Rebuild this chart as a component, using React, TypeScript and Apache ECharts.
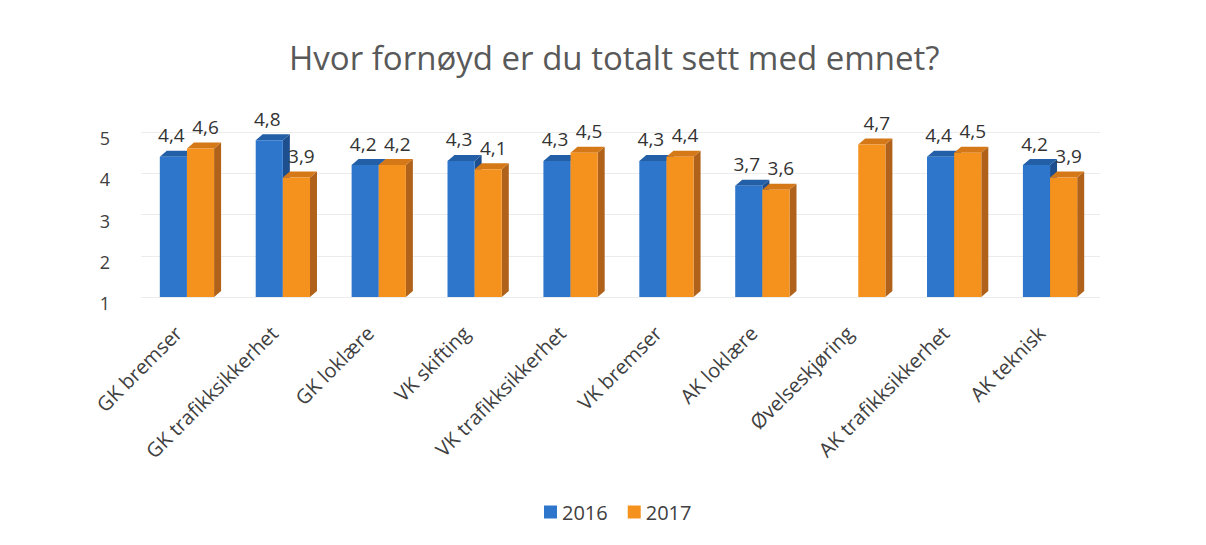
import React, { useEffect, useRef } from "react";
import * as echarts from "echarts";

const categories = [
  "GK bremser",
  "GK trafikksikkerhet",
  "GK loklære",
  "VK skifting",
  "VK trafikksikkerhet",
  "VK bremser",
  "AK loklære",
  "Øvelseskjøring",
  "AK trafikksikkerhet",
  "AK teknisk",
];
const values2016: (number | null)[] = [4.4, 4.8, 4.2, 4.3, 4.3, 4.3, 3.7, null, 4.4, 4.2];
const values2017: (number | null)[] = [4.6, 3.9, 4.2, 4.1, 4.5, 4.4, 3.6, 4.7, 4.5, 3.9];
const seriesNames = ["2016", "2017"];
const yMin = 1;
const yMax = 5;
const yInterval = 1;

const FONT = "'Open Sans', 'Noto Sans', sans-serif";

const palette = [
  { front: "#2e76cb", side: "#1d4f8e", top: "#235fa6" },
  { front: "#f5921e", side: "#b0621a", top: "#d47818" },
];

function makeRender(idx: number) {
  return (params: any, api: any) => {
    const cat = api.value(0);
    const v = api.value(1);
    if (v == null || isNaN(v)) return;
    const top = api.coord([cat, v]);
    const base = api.coord([cat, yMin]);
    const band = api.size([1, 0])[0];
    const w = band * 0.283;
    const c = top[0];
    const x0 = idx === 0 ? c - w - 2 : c - 2;
    const x1 = x0 + w;
    const yt = top[1];
    const yb = base[1];
    const dx = 7;
    const dy = 6;
    const col = palette[idx];
    const label = Number(v).toFixed(1).replace(".", ",");
    return {
      type: "group",
      children: [
        {
          type: "polygon",
          shape: { points: [[x1, yt], [x1 + dx, yt - dy], [x1 + dx, yb - dy], [x1, yb]] },
          style: { fill: col.side },
        },
        {
          type: "polygon",
          shape: { points: [[x0, yt], [x0 + dx, yt - dy], [x1 + dx, yt - dy], [x1, yt]] },
          style: { fill: col.top },
        },
        {
          type: "rect",
          shape: { x: x0, y: yt, width: w, height: yb - yt },
          style: { fill: col.front },
        },
        {
          type: "text",
          x: (x0 + x1) / 2 + (idx === 0 ? -2 : 5),
          y: yt - 12,
          style: {
            text: label,
            fill: "#333333",
            font: `19px ${FONT}`,
            align: "center",
            verticalAlign: "bottom",
          },
        },
      ],
    };
  };
}

export default function App() {
  const ref = useRef<HTMLDivElement>(null);
  useEffect(() => {
    if (!ref.current) return;
    const chart = echarts.init(ref.current, undefined, { renderer: "svg" });
    const allSeries = [values2016, values2017];
    chart.setOption({
      animation: false,
      backgroundColor: "#ffffff",
      title: {
        text: "Hvor fornøyd er du totalt sett med emnet?",
        left: 284,
        top: 36,
        textStyle: { fontFamily: FONT, fontSize: 33, fontWeight: "normal", color: "#595959" },
      },
      legend: {
        bottom: 18,
        left: 539,
        icon: "rect",
        itemWidth: 13,
        itemHeight: 13,
        itemGap: 20,
        textStyle: { fontFamily: FONT, fontSize: 20, color: "#404040" },
        data: [
          { name: seriesNames[0], itemStyle: { color: palette[0].front } },
          { name: seriesNames[1], itemStyle: { color: palette[1].front } },
        ],
      },
      grid: { left: 141, right: 106, top: 132, bottom: 248 },
      xAxis: {
        type: "category",
        data: categories,
        axisLine: { show: false },
        axisTick: { show: false },
        axisLabel: {
          rotate: 45,
          interval: 0,
          margin: 22,
          padding: [0, 15, 0, 0],
          fontFamily: FONT,
          fontSize: 20,
          color: "#404040",
        },
      },
      yAxis: {
        type: "value",
        min: yMin,
        max: yMax,
        interval: yInterval,
        axisLine: { show: false },
        axisTick: { show: false },
        splitLine: { lineStyle: { color: "#ececec" } },
        axisLabel: {
          margin: 31,
          verticalAlign: "top",
          lineHeight: 12,
          fontFamily: FONT,
          fontSize: 18,
          color: "#404040",
        },
      },
      series: allSeries.map((vals, idx) => ({
        type: "custom",
        name: seriesNames[idx],
        itemStyle: { color: palette[idx].front },
        renderItem: makeRender(idx),
        encode: { x: 0, y: 1 },
        data: vals.map((v, i) => [i, v == null ? NaN : v]),
      })),
    });
    return () => chart.dispose();
  }, []);
  return (
    <div
      ref={ref}
      style={{ position: "fixed", left: 0, top: 0, width: 1206, height: 545 }}
    />
  );
}
